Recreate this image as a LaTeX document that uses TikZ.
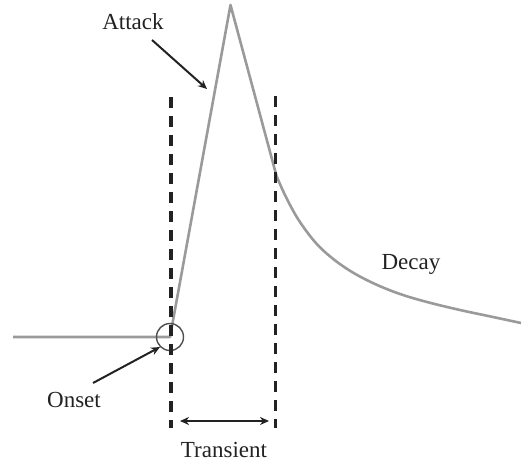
\documentclass[tikz,border=0pt]{standalone}
\usepackage{fontspec}
\setmainfont{Liberation Serif}
\usetikzlibrary{arrows.meta}
\definecolor{curvegray}{HTML}{9A9A9A}
\definecolor{ink}{HTML}{222222}
\tikzset{
  signal/.style={draw=curvegray, line width=2.6pt, line join=round},
  guide/.style={draw=ink, line width=3.6pt, dash pattern=on 11pt off 8pt},
  pointer/.style={draw=ink, line width=2pt, -{Stealth[length=9pt,width=8pt]}},
  label/.style={text=ink, font=\fontsize{23}{26}\selectfont, inner sep=0pt},
}
\begin{document}
\begin{tikzpicture}[x=1pt,y=-1pt]
\useasboundingbox (0,0) rectangle (529,465);
% signal
\draw[signal] (13,337) -- (170,337) -- (230.5,5) -- (276.5,176)
  plot[smooth, tension=0.6] coordinates {(276.5,176) (285,195) (298,219) (315,242) (332,258) (352,272) (375,284) (400,294) (427,302) (460,310) (493,317) (521,323)};
% onset circle
\node[draw=ink!80, line width=1.4pt, circle, minimum size=27pt, inner sep=0pt] (onsetc) at (170,337) {};
% dashed guides
\coordinate (l1) at (171,97); \coordinate (l2) at (171,428);
\coordinate (r1) at (275.5,96); \coordinate (r2) at (275.5,428);
\draw[guide] (l1) -- (l2);
\draw[guide] (r1) -- (r2);
% transient arrow
\coordinate (t1) at (180,421); \coordinate (t2) at (269,421);
\draw[draw=ink, line width=2pt, {Stealth[length=9pt,width=8pt]}-{Stealth[length=9pt,width=8pt]}] (t1) -- (t2);
% labels
\node[label] (attack) at (133,22) {Attack};
\node[label] (onset) at (74,400) {Onset};
\node[label] (transient) at (224,450) {Transient};
\node[label] (decay) at (411,264) {Decay};
% pointers
\coordinate (a1) at (152,40); \coordinate (a2) at (207,89);
\draw[pointer] (a1) -- (a2);
\coordinate (o1) at (93,383);
\draw[pointer] (o1) -- (onsetc.south west);
\end{tikzpicture}
\end{document}
